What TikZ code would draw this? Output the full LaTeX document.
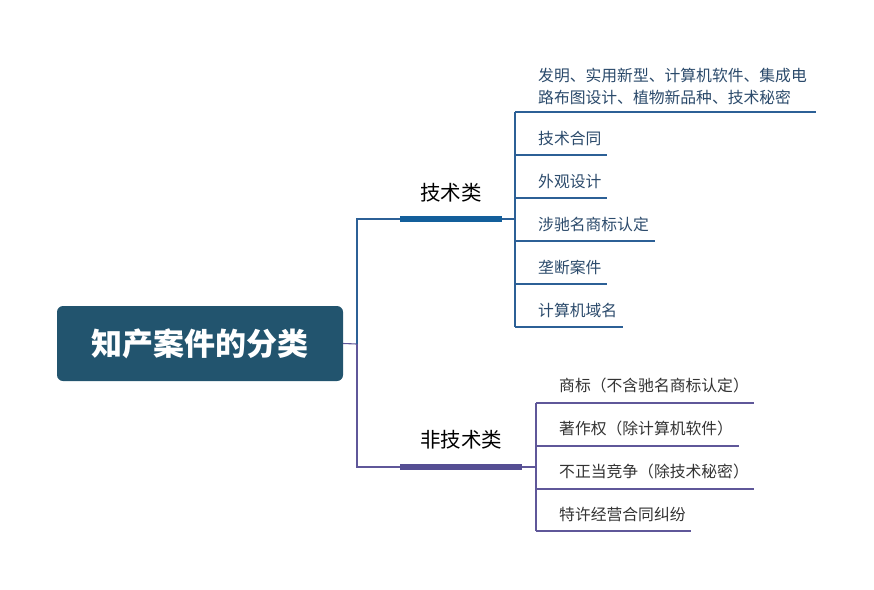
\documentclass[tikz,border=0pt]{standalone}
\usepackage{fontspec}
\setmainfont{Noto Sans CJK SC}
\begin{document}
\begin{tikzpicture}[x=1pt,y=-1pt,
  rootbox/.style={fill=rootc,rounded corners=6pt,minimum width=286pt,minimum height=75pt,inner sep=0pt,text=white,font=\fontsize{31}{34}\selectfont\bfseries},
  catlabel/.style={font=\fontsize{20.5}{22}\selectfont,text=black,inner sep=0pt},
  leafA/.style={anchor=base west,font=\fontsize{15.8}{22}\selectfont,text=leafAc,inner sep=0pt,align=left},
  leafB/.style={anchor=base west,font=\fontsize{15.8}{22}\selectfont,text=leafBc,inner sep=0pt},
  blueln/.style={draw=bluec,line width=1.1pt},
  purpln/.style={draw=purpc,line width=1.1pt},
  bluebar/.style={draw=bluebarc,line width=5.5pt},
  purpbar/.style={draw=purpbarc,line width=5.5pt}]
\definecolor{rootc}{HTML}{22546E}
\definecolor{leafAc}{HTML}{2B4A6B}
\definecolor{leafBc}{HTML}{333333}
\definecolor{bluec}{HTML}{2C6096}
\definecolor{bluebarc}{HTML}{135F9B}
\definecolor{purpc}{HTML}{5F5799}
\definecolor{purpbarc}{HTML}{554E93}
\useasboundingbox (0,0) rectangle (874,589);

% root
\node[rootbox] (root) at (200,343.5) {知产案件的分类};

% branch coordinates
\coordinate (j) at (357,344);
\coordinate (jt) at (357,219);
\coordinate (jb) at (357,467);
\coordinate (ta) at (400,219);
\coordinate (tb) at (502,219);
\coordinate (tc) at (515,219);
\coordinate (ba) at (400,467);
\coordinate (bb) at (522,467);
\coordinate (bc) at (536,467);

\draw[purpln] (root.east) -- (j);
\draw[blueln] (j) -- (jt) -- (ta);
\draw[purpln] (j) -- (jb) -- (ba);
\draw[bluebar] (ta) -- (tb);
\draw[blueln] (tb) -- (tc);
\draw[purpbar] (ba) -- (bb);
\draw[purpln] (bb) -- (bc);

\node[catlabel] (cat1) at (451,193) {技术类};
\node[catlabel] (cat2) at (461,440) {非技术类};

% top leaves
\coordinate (v1) at (515,112);
\coordinate (v6) at (515,327);
\draw[blueln] (v1) -- (v6);
\coordinate (e1) at (816,112);
\coordinate (s2) at (515,155) ; \coordinate (e2) at (607,155);
\coordinate (s3) at (515,198) ; \coordinate (e3) at (607,198);
\coordinate (s4) at (515,241) ; \coordinate (e4) at (655,241);
\coordinate (s5) at (515,284) ; \coordinate (e5) at (607,284);
\coordinate (e6) at (623,327);
\draw[blueln] (v1) -- (e1);
\draw[blueln] (s2) -- (e2);
\draw[blueln] (s3) -- (e3);
\draw[blueln] (s4) -- (e4);
\draw[blueln] (s5) -- (e5);
\draw[blueln] (v6) -- (e6);

\node[leafA] (a1a) at (538,81) {发明、实用新型、计算机软件、集成电};
\node[leafA] (a1b) at (538,103) {路布图设计、植物新品种、技术秘密};
\node[leafA] (a2) at (538,144) {技术合同};
\node[leafA] (a3) at (538,187) {外观设计};
\node[leafA] (a4) at (538,230) {涉驰名商标认定};
\node[leafA] (a5) at (538,273) {垄断案件};
\node[leafA] (a6) at (538,316) {计算机域名};

% bottom leaves
\coordinate (w1) at (536,403);
\coordinate (w4) at (536,531);
\draw[purpln] (w1) -- (w4);
\coordinate (f1) at (754,403);
\coordinate (t2) at (536,446); \coordinate (f2) at (739,446);
\coordinate (t3) at (536,489); \coordinate (f3) at (754,489);
\coordinate (f4) at (691,531);
\draw[purpln] (w1) -- (f1);
\draw[purpln] (t2) -- (f2);
\draw[purpln] (t3) -- (f3);
\draw[purpln] (w4) -- (f4);

\node[leafB] (b1) at (559,391) {商标（不含驰名商标认定）};
\node[leafB] (b2) at (559,434) {著作权（除计算机软件）};
\node[leafB] (b3) at (559,477) {不正当竞争（除技术秘密）};
\node[leafB] (b4) at (559,520) {特许经营合同纠纷};
\end{tikzpicture}
\end{document}
